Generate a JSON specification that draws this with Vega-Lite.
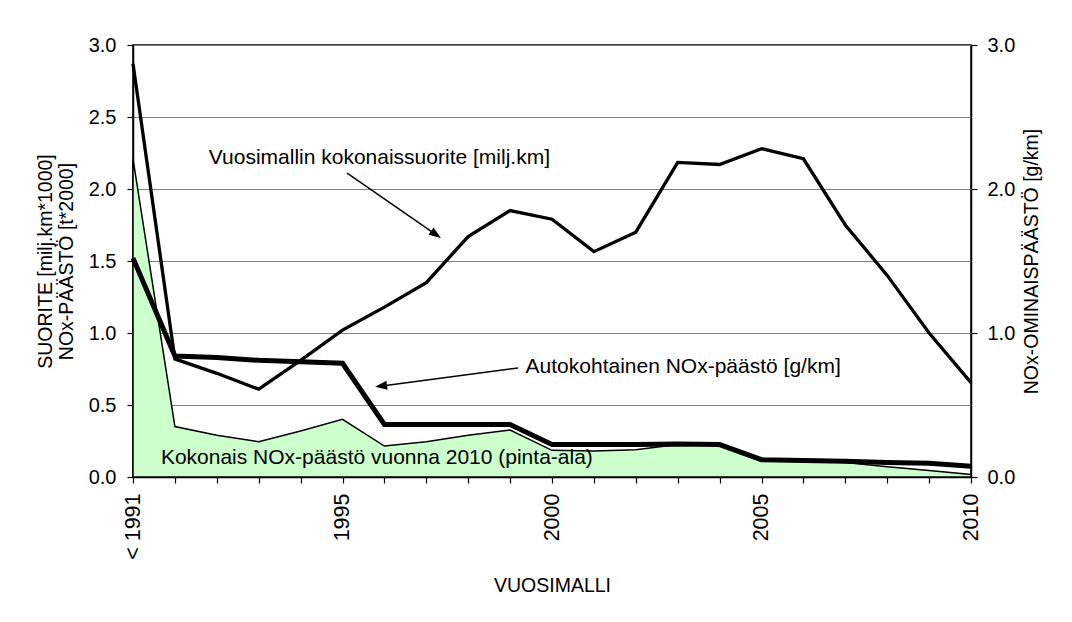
{
  "$schema": "https://vega.github.io/schema/vega-lite/v6.json",
  "width": 838,
  "height": 432,
  "autosize": "none",
  "padding": {"left": 133, "top": 45, "right": 101, "bottom": 145},
  "background": "white",
  "config": {
    "font": "Liberation Sans",
    "view": {"stroke": "black", "strokeWidth": 1.5},
    "axis": {
      "labelFont": "Liberation Sans",
      "titleFont": "Liberation Sans",
      "labelFontSize": 20,
      "titleFontSize": 19.5,
      "titleFontWeight": "normal",
      "labelColor": "black",
      "titleColor": "black",
      "domainColor": "black",
      "tickColor": "black",
      "domainWidth": 1.5,
      "tickWidth": 1.2,
      "tickSize": 6
    }
  },
  "datasets": {
    "sarjat": [
      {"vuosi": 1990, "suorite": 2.87, "nox_g_km": 1.52, "nox_kokonais": 2.21},
      {"vuosi": 1991, "suorite": 0.82, "nox_g_km": 0.84, "nox_kokonais": 0.35},
      {"vuosi": 1992, "suorite": 0.72, "nox_g_km": 0.83, "nox_kokonais": 0.29},
      {"vuosi": 1993, "suorite": 0.61, "nox_g_km": 0.81, "nox_kokonais": 0.245},
      {"vuosi": 1994, "suorite": 0.81, "nox_g_km": 0.8, "nox_kokonais": 0.32},
      {"vuosi": 1995, "suorite": 1.02, "nox_g_km": 0.79, "nox_kokonais": 0.4},
      {"vuosi": 1996, "suorite": 1.18, "nox_g_km": 0.365, "nox_kokonais": 0.215},
      {"vuosi": 1997, "suorite": 1.35, "nox_g_km": 0.365, "nox_kokonais": 0.245},
      {"vuosi": 1998, "suorite": 1.67, "nox_g_km": 0.365, "nox_kokonais": 0.29},
      {"vuosi": 1999, "suorite": 1.85, "nox_g_km": 0.365, "nox_kokonais": 0.326},
      {"vuosi": 2000, "suorite": 1.79, "nox_g_km": 0.225, "nox_kokonais": 0.185},
      {"vuosi": 2001, "suorite": 1.565, "nox_g_km": 0.225, "nox_kokonais": 0.18},
      {"vuosi": 2002, "suorite": 1.7, "nox_g_km": 0.225, "nox_kokonais": 0.19},
      {"vuosi": 2003, "suorite": 2.185, "nox_g_km": 0.23, "nox_kokonais": 0.225},
      {"vuosi": 2004, "suorite": 2.17, "nox_g_km": 0.225, "nox_kokonais": 0.225},
      {"vuosi": 2005, "suorite": 2.28, "nox_g_km": 0.12, "nox_kokonais": 0.12},
      {"vuosi": 2006, "suorite": 2.21, "nox_g_km": 0.115, "nox_kokonais": 0.11},
      {"vuosi": 2007, "suorite": 1.75, "nox_g_km": 0.11, "nox_kokonais": 0.1},
      {"vuosi": 2008, "suorite": 1.4, "nox_g_km": 0.1, "nox_kokonais": 0.072},
      {"vuosi": 2009, "suorite": 1.0, "nox_g_km": 0.095, "nox_kokonais": 0.045},
      {"vuosi": 2010, "suorite": 0.655, "nox_g_km": 0.075, "nox_kokonais": 0.018}
    ],
    "tekstit": [
      {"x": 1995.88, "y": 2.215, "teksti": "Vuosimallin kokonaissuorite [milj.km]"},
      {"x": 2003.13, "y": 0.766, "teksti": "Autokohtainen NOx-päästö [g/km]"},
      {"x": 1995.82, "y": 0.13, "teksti": "Kokonais NOx-päästö vuonna 2010 (pinta-ala)"}
    ],
    "nuolet": [
      {"nuoli": "suorite", "x": 1995.11, "y": 2.11, "x2": 1997.3, "y2": 1.67},
      {"nuoli": "nox", "x": 1999.19, "y": 0.757, "x2": 1995.85, "y2": 0.628}
    ],
    "karki1": [{"x": 1997.23, "y": 1.684}],
    "karki2": [{"x": 1995.92, "y": 0.632}]
  },
  "layer": [
    {
      "encoding": {
        "x": {
          "type": "quantitative",
          "scale": {"domain": [1990, 2010], "nice": false, "zero": false},
          "axis": {
            "title": "VUOSIMALLI",
            "values": [1990, 1991, 1992, 1993, 1994, 1995, 1996, 1997, 1998, 1999, 2000, 2001, 2002, 2003, 2004, 2005, 2006, 2007, 2008, 2009, 2010],
            "labelExpr": "datum.value == 1990 ? '< 1991' : (datum.value % 5 == 0 ? '' + datum.value : '')",
            "labelAngle": 270,
            "labelAlign": "right",
            "labelBaseline": "middle",
            "labelOverlap": false,
            "labelFlush": false,
            "labelFontSize": 21.5,
            "labelPadding": 10,
            "titlePadding": 17,
            "grid": false
          }
        }
      },
      "layer": [
        {
          "data": {"name": "sarjat"},
          "mark": {"type": "area", "color": "#ccffcc", "stroke": "black", "strokeWidth": 1.5, "line": false},
          "encoding": {
            "x": {"field": "vuosi"},
            "y": {
              "field": "nox_kokonais",
              "type": "quantitative",
              "scale": {"domain": [0, 3], "nice": false},
              "axis": {
                "title": ["SUORITE [milj.km*1000]", "NOx-PÄÄSTÖ [t*2000]"],
                "titleLineHeight": 21,
                "values": [0, 0.5, 1, 1.5, 2, 2.5, 3],
                "format": ".1f",
                "grid": true,
                "gridColor": "#808080",
                "gridWidth": 1,
                "labelPadding": 11,
                "titlePadding": 12
              }
            }
          }
        },
        {
          "data": {"name": "sarjat"},
          "mark": {"type": "line", "color": "black", "strokeWidth": 3.3},
          "encoding": {
            "x": {"field": "vuosi"},
            "y": {"field": "suorite", "type": "quantitative"}
          }
        },
        {
          "data": {"name": "nuolet"},
          "mark": {"type": "rule", "color": "black", "strokeWidth": 1.5},
          "encoding": {
            "x": {"field": "x"},
            "y": {"field": "y", "type": "quantitative"},
            "x2": {"field": "x2"},
            "y2": {"field": "y2"}
          }
        },
        {
          "data": {"name": "karki1"},
          "mark": {"type": "point", "shape": "M1,0L-1,-0.75L-1,0.75Z", "filled": true, "color": "black", "opacity": 1, "size": 144, "angle": 34.7},
          "encoding": {
            "x": {"field": "x"},
            "y": {"field": "y", "type": "quantitative"}
          }
        },
        {
          "data": {"name": "karki2"},
          "mark": {"type": "point", "shape": "M1,0L-1,-0.75L-1,0.75Z", "filled": true, "color": "black", "opacity": 1, "size": 144, "angle": 172.7},
          "encoding": {
            "x": {"field": "x"},
            "y": {"field": "y", "type": "quantitative"}
          }
        },
        {
          "data": {"name": "tekstit"},
          "mark": {"type": "text", "fontSize": 21, "font": "Liberation Sans", "color": "black", "align": "center", "baseline": "middle"},
          "encoding": {
            "x": {"field": "x"},
            "y": {"field": "y", "type": "quantitative"},
            "text": {"field": "teksti"}
          }
        }
      ]
    },
    {
      "data": {"name": "sarjat"},
      "mark": {"type": "line", "color": "black", "strokeWidth": 5},
      "encoding": {
        "x": {"field": "vuosi", "type": "quantitative"},
        "y": {
          "field": "nox_g_km",
          "type": "quantitative",
          "scale": {"domain": [0, 3], "nice": false},
          "axis": {
            "orient": "right",
            "title": "NOx-OMINAISPÄÄSTÖ [g/km]",
            "titleAngle": 270,
            "titleBaseline": "top",
            "values": [0, 1, 2, 3],
            "format": ".1f",
            "grid": false,
            "labelPadding": 10,
            "titlePadding": 8
          }
        }
      }
    }
  ],
  "resolve": {"scale": {"y": "independent"}}
}
